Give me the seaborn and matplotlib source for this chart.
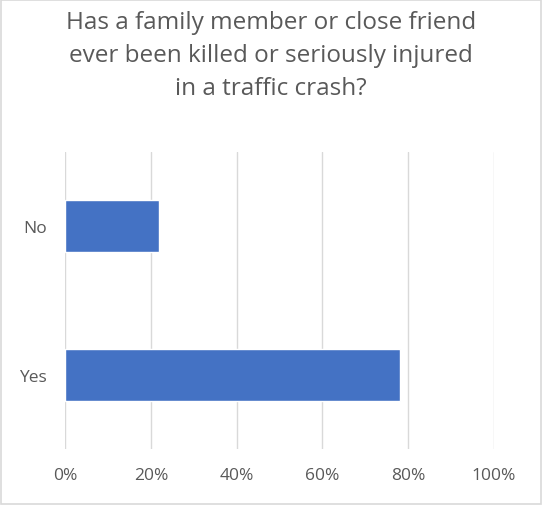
import matplotlib
matplotlib.use("Agg")
import matplotlib.pyplot as plt
import seaborn as sns
import pandas as pd
from matplotlib.ticker import FuncFormatter, MultipleLocator

categories = ["No", "Yes"]
values = [22, 78]
title = "Has a family member or close friend\never been killed or seriously injured\nin a traffic crash?"

sns.set_theme(style="white")
plt.rcParams['font.family'] = ['Open Sans', 'DejaVu Sans']

df = pd.DataFrame({"cat": categories, "val": values})

fig = plt.figure(figsize=(5.42, 5.06), dpi=100)
ax = fig.add_axes([0.12, 0.1107, 0.7914, 0.5869])
sns.barplot(data=df, x="val", y="cat", order=categories, color="#4472C4",
            width=0.35, orient="h", ax=ax, saturation=1)
ax.set_xlim(0, 100)
ax.set_ylim(1.5, -0.5)
ax.xaxis.set_major_locator(MultipleLocator(20))
ax.xaxis.set_major_formatter(FuncFormatter(lambda v, p: f"{int(v)}%"))
ax.grid(axis="x", color="#D9D9D9", linewidth=1)
ax.set_axisbelow(True)
for s in ax.spines.values():
    s.set_visible(False)
ax.set_xlabel("")
ax.set_ylabel("")
ax.tick_params(axis="both", length=0, labelsize=12.5, labelcolor="#595959")
ax.tick_params(axis="x", pad=13)
ax.tick_params(axis="y", pad=13)

fig.text(0.5, 0.978, title, ha="center", va="top", fontsize=17.5, color="#595959",
         linespacing=1.5)

fig.patches.append(plt.Rectangle((0.002, 0.002), 0.996, 0.996, transform=fig.transFigure,
                                 fill=False, edgecolor="#D9D9D9", linewidth=1.2))
fig.savefig("out.png", dpi=100, facecolor="white")
